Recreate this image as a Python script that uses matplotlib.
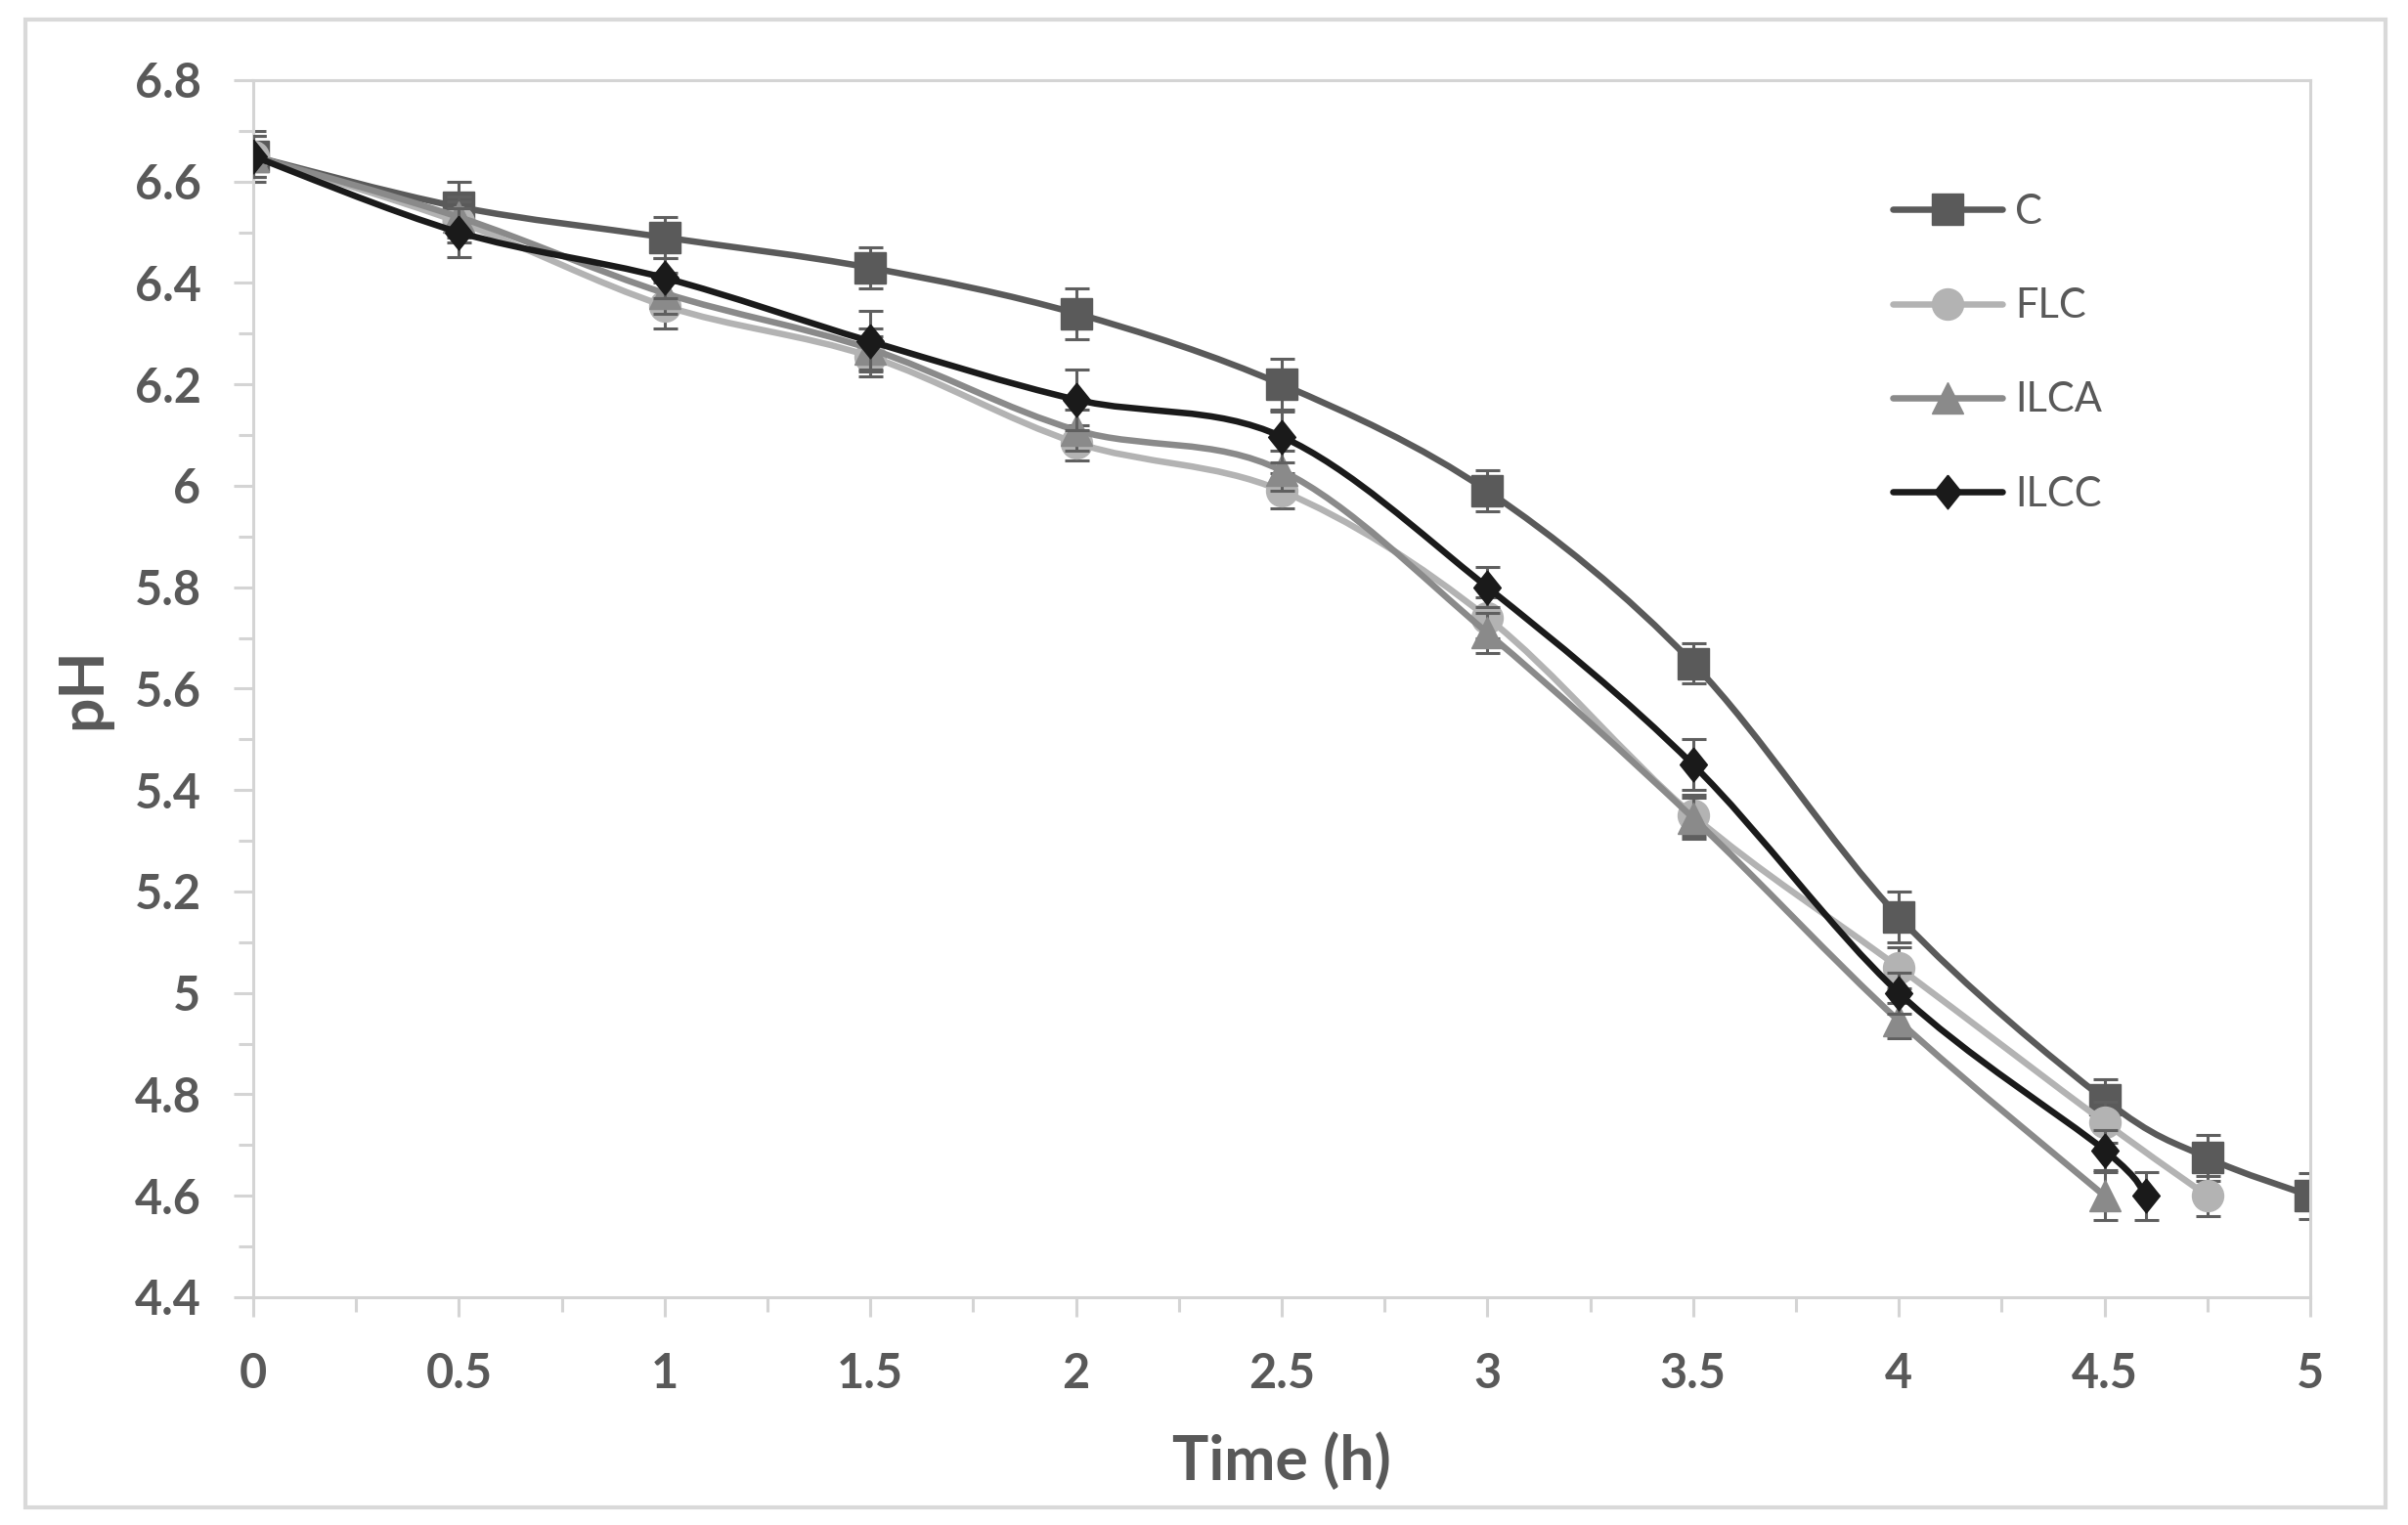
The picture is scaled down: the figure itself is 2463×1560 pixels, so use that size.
import matplotlib
matplotlib.use("Agg")
import matplotlib.pyplot as plt
import numpy as np
from matplotlib.path import Path
from matplotlib.patches import PathPatch, Rectangle
from matplotlib.lines import Line2D
from matplotlib.ticker import MultipleLocator, FuncFormatter

plt.rcParams['font.family'] = ['Lato', 'DejaVu Sans']

# data (pH vs time)
time_c = [0, 0.5, 1, 1.5, 2, 2.5, 3, 3.5, 4, 4.5, 4.75, 5]
ph_c = [6.65, 6.55, 6.49, 6.43, 6.34, 6.20, 5.99, 5.65, 5.15, 4.79, 4.675, 4.60]
err_c = [0.05, 0.05, 0.04, 0.04, 0.05, 0.05, 0.04, 0.04, 0.05, 0.04, 0.045, 0.045]

time_flc = [0, 0.5, 1, 1.5, 2, 2.5, 3, 3.5, 4, 4.5, 4.75]
ph_flc = [6.65, 6.52, 6.355, 6.255, 6.085, 5.99, 5.74, 5.35, 5.05, 4.745, 4.60]
err_flc = [0.04, 0.04, 0.045, 0.04, 0.035, 0.035, 0.04, 0.04, 0.04, 0.04, 0.04]

time_ilca = [0, 0.5, 1, 1.5, 2, 2.5, 3, 3.5, 4, 4.5]
ph_ilca = [6.65, 6.53, 6.38, 6.27, 6.11, 6.03, 5.71, 5.345, 4.945, 4.60]
err_ilca = [0.04, 0.04, 0.04, 0.04, 0.04, 0.04, 0.04, 0.04, 0.035, 0.047]

time_ilcc = [0, 0.5, 1, 1.5, 2, 2.5, 3, 3.5, 4, 4.5, 4.6]
ph_ilcc = [6.65, 6.50, 6.41, 6.285, 6.17, 6.097, 5.80, 5.45, 5.00, 4.69, 4.60]
err_ilcc = [0.04, 0.048, 0.04, 0.06, 0.06, 0.05, 0.04, 0.05, 0.04, 0.04, 0.047]

names = ['C', 'FLC', 'ILCA', 'ILCC']
colors = ['#5a5a5a', '#b3b3b3', '#8a8a8a', '#1a1a1a']
diamond = [(0, 1), (0.8, 0), (0, -1), (-0.8, 0), (0, 1)]
markers = ['s', 'o', '^', diamond]
msizes = [23, 23, 23, 25]
err_color = '#5f5f5f'
axis_color = '#d4d4d4'
text_color = '#595959'


def smooth_path(x, y):
    # Excel-style smoothed line: cubic bezier segments, catmull-rom tangents
    pts = np.column_stack([x, y]).astype(float)
    verts = [pts[0]]
    codes = [Path.MOVETO]
    n = len(pts)
    for i in range(n - 1):
        p0 = pts[i - 1] if i > 0 else pts[i]
        p1 = pts[i]
        p2 = pts[i + 1]
        p3 = pts[i + 2] if i + 2 < n else pts[i + 1]
        verts += [p1 + (p2 - p0) / 6.0, p2 - (p3 - p1) / 6.0, p2]
        codes += [Path.CURVE4] * 3
    return Path(verts, codes)


fig = plt.figure(figsize=(24.63, 15.6), dpi=100)
ax = fig.add_axes([259 / 2463, 1 - 1327 / 1560, (2363 - 259) / 2463, (1327 - 82) / 1560])

series = [(time_c, ph_c, err_c), (time_flc, ph_flc, err_flc),
          (time_ilca, ph_ilca, err_ilca), (time_ilcc, ph_ilcc, err_ilcc)]

handles = []
for i, (xs, ys, es) in enumerate(series):
    z = 2 + i
    ax.add_patch(PathPatch(smooth_path(xs, ys), facecolor='none', edgecolor=colors[i],
                           lw=4.7, capstyle='round', joinstyle='round', zorder=z))
    ax.errorbar(xs, ys, yerr=es, fmt='none', ecolor=err_color, elinewidth=2.2,
                capsize=9, capthick=2.2, zorder=z + 0.1)
    ax.plot(xs, ys, linestyle='none', marker=markers[i], markersize=msizes[i],
            markerfacecolor=colors[i], markeredgecolor=colors[i], markeredgewidth=1,
            zorder=z + 0.2)
    handles.append(Line2D([], [], color=colors[i], lw=4.7, marker=markers[i],
                          markersize=msizes[i], markerfacecolor=colors[i],
                          markeredgecolor=colors[i], solid_capstyle='round'))

ax.set_xlim(0, 5)
ax.set_ylim(4.4, 6.8)
ax.xaxis.set_major_locator(MultipleLocator(0.5))
ax.xaxis.set_minor_locator(MultipleLocator(0.25))
ax.yaxis.set_major_locator(MultipleLocator(0.2))
ax.yaxis.set_minor_locator(MultipleLocator(0.1))
fmt = FuncFormatter(lambda v, p: '%g' % round(v, 2))
ax.xaxis.set_major_formatter(fmt)
ax.yaxis.set_major_formatter(fmt)

for s in ax.spines.values():
    s.set_color(axis_color)
    s.set_linewidth(2.2)

ax.tick_params(axis='x', which='major', direction='out', length=14.5, width=2.2,
               color=axis_color, pad=26, labelsize=35, labelcolor=text_color)
ax.tick_params(axis='x', which='minor', direction='out', length=10.5, width=2.2, color=axis_color)
ax.tick_params(axis='y', which='major', direction='out', length=14.5, width=2.2,
               color=axis_color, pad=24, labelsize=35, labelcolor=text_color)
ax.tick_params(axis='y', which='minor', direction='out', length=10.5, width=2.2, color=axis_color)
plt.setp(ax.get_xticklabels() + ax.get_yticklabels(), fontweight='bold')

ax.set_xlabel('Time (h)', fontsize=45, fontweight='bold', color=text_color)
ax.xaxis.set_label_coords(0.5, (1327 - 1495) / 1245)
ax.xaxis.label.set_verticalalignment('center')
ax.set_ylabel('pH', fontsize=45, fontweight='bold', color=text_color)
ax.yaxis.set_label_coords((85 - 259) / 2104, 0.5)
ax.yaxis.label.set_verticalalignment('center')
ax.yaxis.label.set_horizontalalignment('center')

leg = ax.legend(handles, names, loc='upper left', bbox_to_anchor=(0.797, 0.907),
                frameon=False, fontsize=30, handlelength=2.7, handletextpad=0.3,
                labelspacing=1.4, borderpad=0, borderaxespad=0)
for t in leg.get_texts():
    t.set_color(text_color)

fig.add_artist(Rectangle((26 / 2463, 1 - 1542 / 1560), (2440 - 26) / 2463, (1542 - 20) / 1560,
                         transform=fig.transFigure, fill=False, edgecolor='#d9d9d9', lw=3))

fig.savefig('out.png', dpi=100, facecolor='white')
